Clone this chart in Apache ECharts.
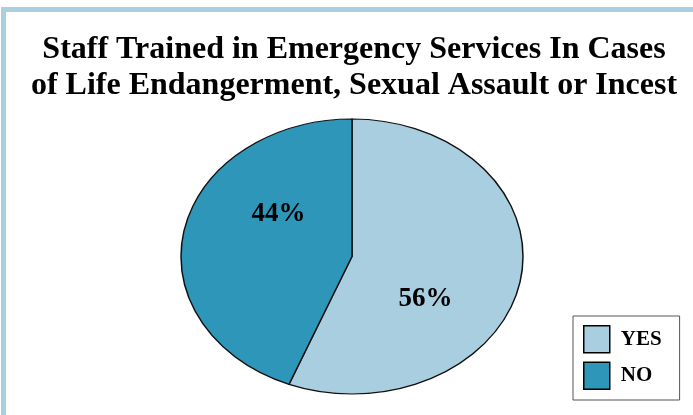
<!DOCTYPE html>
<html>
<head>
<meta charset="utf-8">
<script src="https://cdn.jsdelivr.net/npm/echarts@6/dist/echarts.min.js"></script>
<style>
  html, body { margin: 0; padding: 0; background: #fff; }
  #chart { width: 693px; height: 415px; }
</style>
</head>
<body>
<div id="chart"></div>
<script>
  var titleLines = ['Staff Trained in Emergency Services In Cases', 'of Life Endangerment, Sexual Assault or Incest'];
  var categories = ['YES', 'NO'];
  var values = [56, 44];
  var colors = ['#a9cee0', '#2e96b9'];

  var total = values.reduce(function (a, b) { return a + b; }, 0);

  // ellipse pie: circle sector drawn in a horizontally scaled group
  var cx = 352, cy = 256.5, rx = 171, ry = 137.5;
  var labelShift = 25 * Math.PI / 180;

  function renderSlice(params, api) {
    var idx = params.seriesIndex;
    var before = 0;
    for (var i = 0; i < idx; i++) before += values[i];
    var v = api.value(0);
    var start = -Math.PI / 2 + before / total * Math.PI * 2;
    var end = start + v / total * Math.PI * 2;
    var mid = (start + end) / 2 + labelShift;
    return {
      type: 'group',
      children: [
        {
          type: 'group',
          x: cx,
          y: cy,
          scaleX: rx / ry,
          children: [{
            type: 'sector',
            shape: { cx: 0, cy: 0, r0: 0, r: ry, startAngle: start, endAngle: end, clockwise: true },
            style: { fill: colors[idx], stroke: '#111', lineWidth: 1.2, strokeNoScale: true }
          }]
        },
        {
          type: 'text',
          x: cx + Math.cos(mid) * rx * 0.53,
          y: cy + Math.sin(mid) * ry * 0.53,
          style: {
            text: Math.round(v / total * 100) + '%',
            align: 'center',
            verticalAlign: 'middle',
            font: 'bold 27px "Liberation Serif"',
            fill: '#000'
          }
        }
      ]
    };
  }

  var series = [];
  for (var i = 0; i < categories.length; i++) {
    series.push({
      name: categories[i],
      type: 'custom',
      coordinateSystem: 'none',
      itemStyle: { color: colors[i] },
      renderItem: renderSlice,
      data: [[values[i]]]
    });
  }

  var option = {
    animation: false,
    title: {
      text: titleLines.join('\n'),
      left: 349,
      top: 27,
      textAlign: 'center',
      textStyle: {
        fontFamily: 'Liberation Serif',
        fontWeight: 'bold',
        fontSize: 32,
        lineHeight: 36,
        color: '#000'
      }
    },
    legend: {
      orient: 'vertical',
      left: 573,
      top: 316,
      data: categories,
      icon: 'rect',
      itemWidth: 26,
      itemHeight: 27,
      itemGap: 8,
      padding: [9, 18, 10, 10],
      backgroundColor: '#fff',
      borderColor: '#555',
      borderWidth: 1,
      itemStyle: { borderColor: '#000', borderWidth: 1.5 },
      textStyle: {
        fontFamily: 'Liberation Serif',
        fontWeight: 'bold',
        fontSize: 21,
        color: '#000',
        padding: [0, 0, 0, 6]
      }
    },
    graphic: [{
      type: 'rect',
      z: -1,
      shape: { x: 3.5, y: 9.5, width: 800, height: 500 },
      style: { fill: 'none', stroke: '#a9cfe1', lineWidth: 5 }
    }],
    series: series
  };

  var chart = echarts.init(document.getElementById('chart'));
  chart.setOption(option);
</script>
</body>
</html>
